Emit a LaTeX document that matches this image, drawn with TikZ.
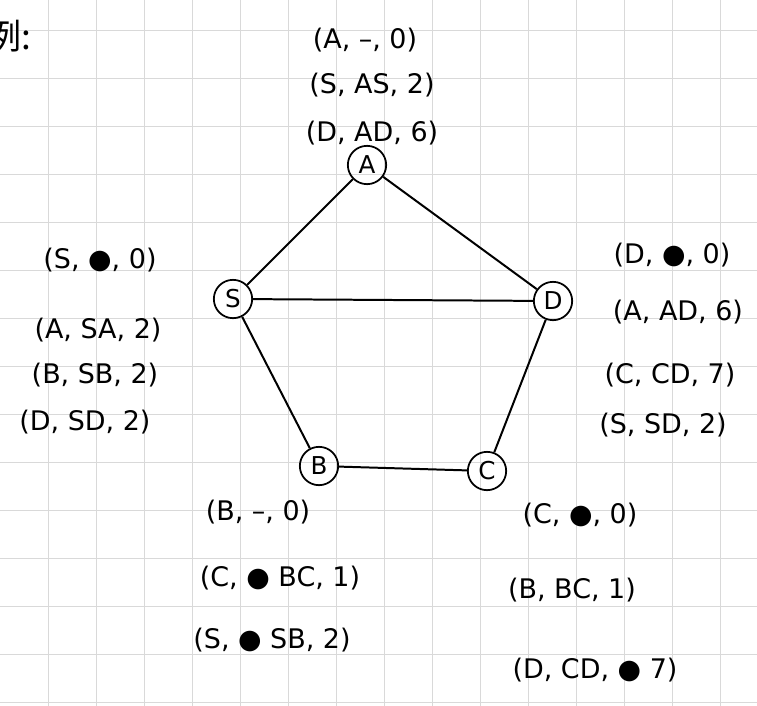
\documentclass[tikz,border=0pt]{standalone}
\usepackage{fontspec}
\setmainfont{DejaVu Sans}
\newfontfamily\cjkfont{Noto Sans CJK SC}
\usetikzlibrary{positioning}
\tikzset{
  gridline/.style={gray!30, line width=0.7pt},
  vertex/.style={draw, circle, line width=1.5pt, inner sep=1pt, minimum size=1.15cm, font=\fontsize{21}{24}\selectfont},
  edge/.style={line width=1.7pt},
  tuple/.style={font=\fontsize{23}{27}\selectfont, inner sep=1pt}
}
\newcommand{\blot}{●}

\begin{document}
\begin{tikzpicture}[x=0.03cm,y=-0.03cm]
  \useasboundingbox (0,0) rectangle (757,706);
  \clip (0,0) rectangle (757,706);
  \fill[white] (0,0) rectangle (757,706);
  \foreach \gx in {48,96,...,720} \draw[gridline] (\gx,0) -- (\gx,706);
  \foreach \gy in {30,78,...,702} \draw[gridline] (0,\gy) -- (757,\gy);

  \node[tuple, anchor=east, font=\fontsize{30}{34}\selectfont] (title) at (33,36) {\cjkfont 例:};

  \node[vertex] (A) at (367,165) {A};
  \node[vertex] (S) at (233,299) {S};
  \node[vertex] (D) at (553,301) {D};
  \node[vertex] (B) at (319,466) {B};
  \node[vertex] (C) at (487,471) {C};

  \draw[edge] (A) -- (S);
  \draw[edge] (A) -- (D);
  \draw[edge] (S) -- (D);
  \draw[edge] (S) -- (B);
  \draw[edge] (D) -- (C);
  \draw[edge] (B) -- (C);

  \node[tuple] (a0) at (365,40) {(A, –, 0)};
  \node[tuple] (a1) at (372,85) {(S, AS, 2)};
  \node[tuple] (a2) at (372,133) {(D, AD, 6)};

  \node[tuple] (s0) at (100,260) {(S, \blot, 0)};
  \node[tuple] (s1) at (98,330) {(A, SA, 2)};
  \node[tuple] (s2) at (95,375) {(B, SB, 2)};
  \node[tuple] (s3) at (85,422) {(D, SD, 2)};

  \node[tuple] (d0) at (672,255) {(D, \blot, 0)};
  \node[tuple] (d1) at (678,312) {(A, AD, 6)};
  \node[tuple] (d2) at (670,375) {(C, CD, 7)};
  \node[tuple] (d3) at (663,425) {(S, SD, 2)};

  \node[tuple] (b0) at (258,512) {(B, –, 0)};
  \node[tuple] (b1) at (280,578) {(C, \blot\ BC, 1)};
  \node[tuple] (b2) at (272,640) {(S, \blot\ SB, 2)};

  \node[tuple] (c0) at (580,515) {(C, \blot, 0)};
  \node[tuple] (c1) at (572,590) {(B, BC, 1)};
  \node[tuple] (c2) at (595,670) {(D, CD, \blot\ 7)};
\end{tikzpicture}
\end{document}
